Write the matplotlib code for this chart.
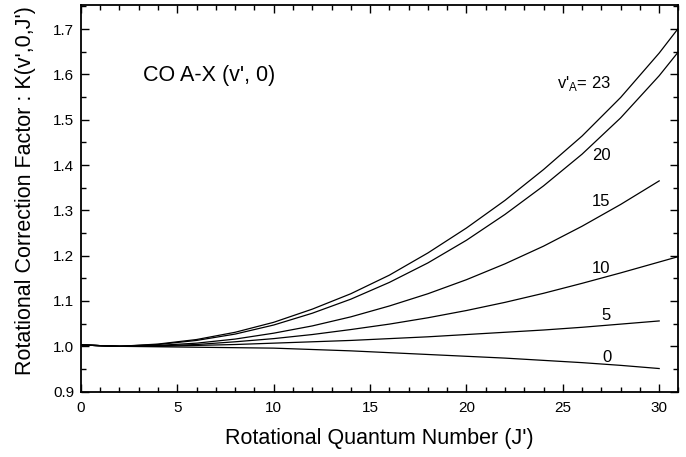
import matplotlib
matplotlib.use("Agg")
import matplotlib.pyplot as plt
from matplotlib.ticker import MultipleLocator

plt.rcParams['font.family'] = ['Liberation Sans', 'DejaVu Sans']
plt.rcParams['mathtext.fontset'] = 'custom'
plt.rcParams['mathtext.rm'] = 'Liberation Sans'

# rotational quantum number J' (last point only for curves running off the right edge)
J = [0, 2, 4, 6, 8, 10, 12, 14, 16, 18, 20, 22, 24, 26, 28, 30, 31]

# K(v',0,J'), one list per v'_A
k_v0 = [1.003, 1.000, 0.999, 0.998, 0.997, 0.996, 0.993, 0.990, 0.986, 0.982,
        0.978, 0.974, 0.969, 0.964, 0.958, 0.951]
k_v5 = [1.003, 1.000, 1.000, 1.002, 1.004, 1.007, 1.010, 1.013, 1.017, 1.021,
        1.026, 1.031, 1.036, 1.042, 1.049, 1.056]
k_v10 = [1.003, 1.000, 1.001, 1.004, 1.010, 1.017, 1.026, 1.037, 1.049, 1.063,
         1.079, 1.097, 1.117, 1.139, 1.162, 1.186, 1.198]
k_v15 = [1.003, 1.000, 1.002, 1.007, 1.016, 1.029, 1.045, 1.065, 1.089, 1.116,
         1.147, 1.182, 1.221, 1.265, 1.313, 1.365]
k_v20 = [1.003, 1.000, 1.004, 1.013, 1.027, 1.047, 1.073, 1.104, 1.141, 1.184,
         1.234, 1.291, 1.354, 1.424, 1.504, 1.597, 1.650]
k_v23 = [1.003, 1.000, 1.005, 1.015, 1.031, 1.053, 1.082, 1.116, 1.157, 1.206,
         1.261, 1.322, 1.390, 1.464, 1.549, 1.647, 1.702]

curves = [k_v0, k_v5, k_v10, k_v15, k_v20, k_v23]
labels = ["0", "5", "10", "15", "20", r"v'$_\mathregular{A}$= 23"]
label_xy = [(27.3, 0.976), (27.25, 1.068), (27.0, 1.172), (27.0, 1.32),
            (27.0, 1.42), (26.1, 1.579)]

fig = plt.figure(figsize=(6.86, 4.57), dpi=100)
ax = fig.add_axes([0.118, 0.143, 0.871, 0.845])

for k in curves:
    ax.plot(J[:len(k)], k, color='black', lw=0.9)

for text, (x, y) in zip(labels, label_xy):
    ax.text(x, y, text, fontsize=12, ha='center', va='center')

ax.text(3.2, 1.597, "CO A-X (v', 0)", fontsize=15.5, ha='left', va='center')

ax.set_xlim(0, 31)
ax.set_ylim(0.9, 1.752)
ax.xaxis.set_major_locator(MultipleLocator(5))
ax.xaxis.set_minor_locator(MultipleLocator(1))
ax.yaxis.set_minor_locator(MultipleLocator(0.05))
ax.set_yticks([0.9, 1.0, 1.1, 1.2, 1.3, 1.4, 1.5, 1.6, 1.7])
ax.set_yticklabels(["0.9", "1.0", "1.1", "1.2", "1.3", "1.4", "1.5", "1.6", "1.7"])

ax.tick_params(which='both', direction='in', top=True, right=True, width=1.0)
ax.tick_params(which='major', length=6, labelsize=11)
ax.tick_params(which='minor', length=3.5)
ax.tick_params(axis='x', which='major', pad=7)
ax.tick_params(axis='y', which='major', pad=5)
for s in ax.spines.values():
    s.set_linewidth(1.3)

ax.set_xlabel("Rotational Quantum Number (J')", fontsize=15.5, labelpad=9)
ax.set_ylabel("Rotational Correction Factor : K(v',0,J')", fontsize=15.5,
              labelpad=12, y=0.522)

fig.savefig("out.png", dpi=100)
